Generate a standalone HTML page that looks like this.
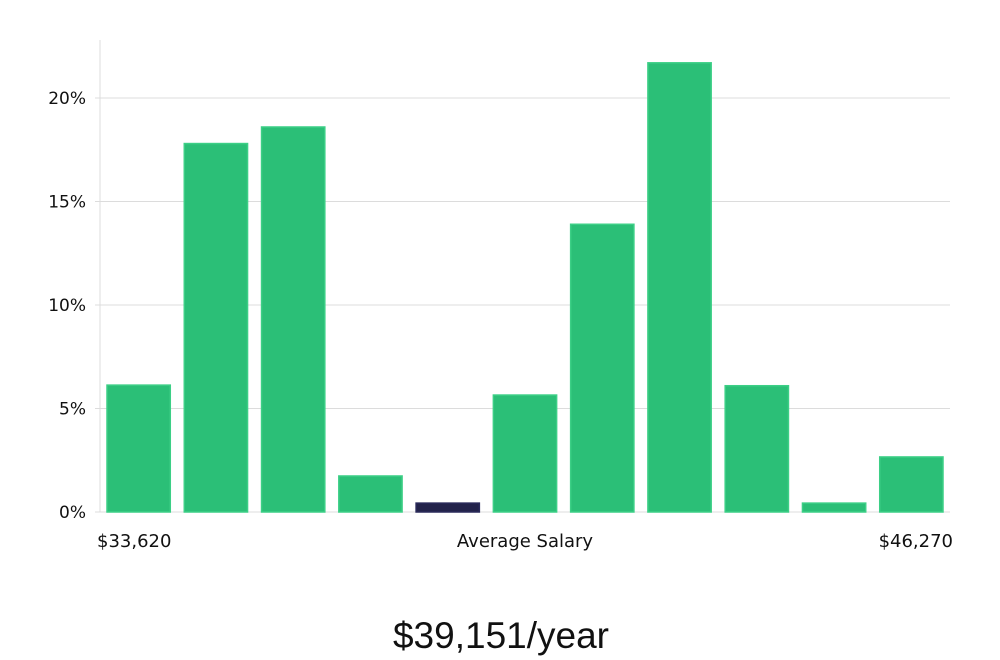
<!DOCTYPE html>
<html><head><meta charset="utf-8"><style>
html,body{margin:0;padding:0;background:#fff;width:1000px;height:660px;overflow:hidden}
svg text{font-family:"DejaVu Sans","Liberation Sans",sans-serif;fill:#111}
</style></head><body>
<svg id="chart" width="1000" height="660" viewBox="0 0 1000 660" xmlns="http://www.w3.org/2000/svg"></svg>
<script>
const binValues = [6.13, 17.8, 18.6, 1.74, 0.43, 5.65, 13.9, 21.7, 6.1, 0.43, 2.66];
const highlightIndex = [4];
const yTicks = [0, 5, 10, 15, 20];
const yTickLabels = ["0%", "5%", "10%", "15%", "20%"];
const xLabels = ["$33,620", "Average Salary", "$46,270"];
const summaryText = "$39,151/year";

const NS = "http://www.w3.org/2000/svg";
const svg = document.getElementById('chart');
const left = 100, right = 950, y0 = 512, pxPerUnit = 20.7;
const yScale = v => y0 - v * pxPerUnit;
const step = (right - left) / binValues.length;
const xScale = i => left + i * step + 7;
const barW = step - 14;

function mk(tag, attrs){const e=document.createElementNS(NS,tag);for(const k in attrs)e.setAttribute(k,attrs[k]);svg.appendChild(e);return e;}

yTicks.forEach((t,i)=>{
  if(t>0){
    const g = mk('line',{x1:left-5,x2:right,y1:yScale(t),y2:yScale(t),stroke:'#dcdcdc','stroke-width':1});
    
    
  }
  const tx = mk('text',{x:86,y:yScale(t)+6,'text-anchor':'end','font-size':17});
  tx.textContent = yTickLabels[i];
  
  
});
const ax = mk('line',{x1:left,x2:left,y1:40,y2:y0,stroke:'#dcdcdc','stroke-width':1});


const bx = mk('line',{x1:left-5,x2:right,y1:y0,y2:y0,stroke:'#dcdcdc','stroke-width':1});



binValues.forEach((v,i)=>{
  const hi = highlightIndex.includes(i);
  const r = mk('rect',{x:xScale(i),y:yScale(v),width:barW,height:y0-yScale(v),
    fill: hi ? '#22224a' : '#2bbf77', stroke: hi ? '#2a2a5a' : '#3ccf86','stroke-width':1.5});
  
  
});

const xl = [[97,'start'],[525,'middle'],[953,'end']];
xLabels.forEach((s,i)=>{
  const t = mk('text',{x:xl[i][0],y:547,'text-anchor':xl[i][1],'font-size':18});
  t.textContent = s;
  
  
});
const st = mk('text',{x:501,y:648,'text-anchor':'middle','font-size':37,'font-weight':300});
st.setAttribute('style','font-family:"Liberation Sans",sans-serif;fill:#111');
st.textContent = summaryText;


</script>
</body></html>
